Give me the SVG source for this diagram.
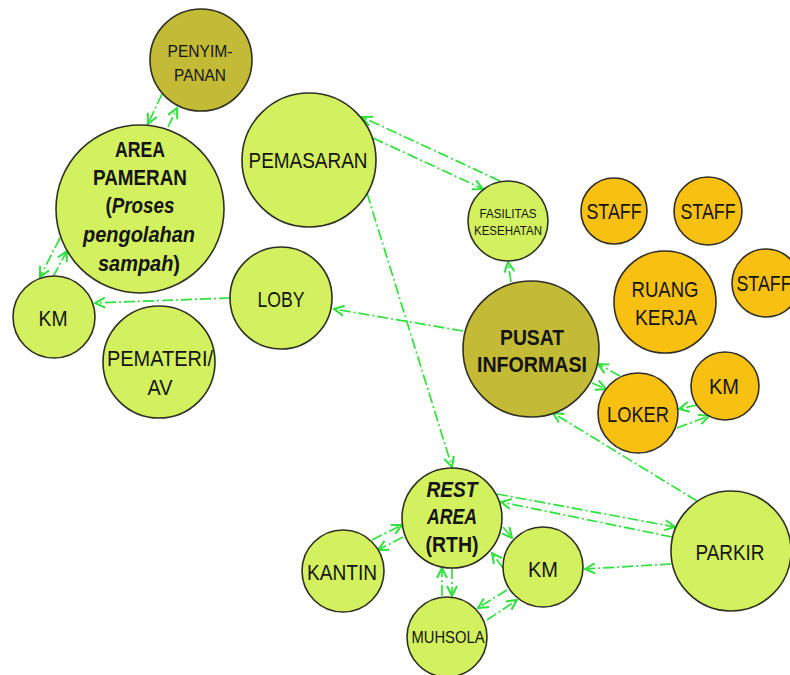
<svg xmlns="http://www.w3.org/2000/svg" width="790" height="675" viewBox="0 0 790 675">
  <style>
    .n { stroke: #2f2f24; stroke-width: 1.6; }
    .g { fill: #d3f05e; }
    .o { fill: #c3bb36; }
    .y { fill: #f8c010; }
    text { font-family: "Liberation Sans", Arial, sans-serif; fill: #141414; text-anchor: middle; }
    .l { font-size: 22px; }
    .m { font-size: 17px; }
    .s { font-size: 12.5px; }
    .b { font-weight: bold; }
    .i { font-style: italic; }
    .c { fill: none; stroke: #2ee23c; stroke-width: 1.7; stroke-dasharray: 11 3 2 3; marker-end: url(#ah); }
  </style>
  <defs>
    <marker id="ah" viewBox="0 0 12 12" refX="11" refY="6" markerWidth="12" markerHeight="12" orient="auto" markerUnits="userSpaceOnUse">
      <path d="M1,1 L11,6 L1,11" fill="none" stroke="#2ee23c" stroke-width="2"/>
    </marker>
  </defs>

  <!-- connectors -->
  <g id="connectors">
    <line class="c" x1="162" y1="94" x2="148" y2="124"/>
    <line class="c" x1="168" y1="127" x2="177" y2="108"/>
    <line class="c" x1="60" y1="238" x2="40" y2="277"/>
    <line class="c" x1="53" y1="277" x2="67" y2="251"/>
    <line class="c" x1="230" y1="298" x2="95" y2="303"/>
    <line class="c" x1="463" y1="331" x2="334" y2="309"/>
    <line class="c" x1="511" y1="282" x2="508" y2="262"/>
    <line class="c" x1="500" y1="181" x2="362" y2="117"/>
    <line class="c" x1="373" y1="138" x2="483" y2="189"/>
    <line class="c" x1="367" y1="193" x2="452" y2="467"/>
    <line class="c" x1="620" y1="376" x2="598" y2="364"/>
    <line class="c" x1="592" y1="383" x2="606" y2="389"/>
    <line class="c" x1="697" y1="405" x2="679" y2="409"/>
    <line class="c" x1="677" y1="428" x2="709" y2="416"/>
    <line class="c" x1="697" y1="501" x2="553" y2="413"/>
    <line class="c" x1="497" y1="494" x2="675" y2="527"/>
    <line class="c" x1="672" y1="537" x2="501" y2="502"/>
    <line class="c" x1="671" y1="564" x2="585" y2="569"/>
    <line class="c" x1="503" y1="527" x2="512" y2="538"/>
    <line class="c" x1="503" y1="568" x2="492" y2="553"/>
    <line class="c" x1="372" y1="540" x2="402" y2="525"/>
    <line class="c" x1="403" y1="537" x2="378" y2="550"/>
    <line class="c" x1="442" y1="596" x2="442" y2="568"/>
    <line class="c" x1="452" y1="568" x2="452" y2="596"/>
    <line class="c" x1="507" y1="590" x2="478" y2="608"/>
    <line class="c" x1="487" y1="620" x2="517" y2="600"/>
  </g>

  <!-- nodes -->
  <g id="penyimpanan">
    <circle class="n o" cx="201" cy="60" r="51"/>
    <text class="m" x="200" y="57" textLength="65" lengthAdjust="spacingAndGlyphs">PENYIM-</text>
    <text class="m" x="200" y="81" textLength="52" lengthAdjust="spacingAndGlyphs">PANAN</text>
  </g>
  <g id="area-pameran">
    <circle class="n g" cx="140" cy="209" r="84"/>
    <text class="l b" x="140" y="157" textLength="50" lengthAdjust="spacingAndGlyphs">AREA</text>
    <text class="l b" x="140" y="185" textLength="94" lengthAdjust="spacingAndGlyphs">PAMERAN</text>
    <text class="l b" x="140" y="213" textLength="69" lengthAdjust="spacingAndGlyphs">(<tspan class="i">Proses</tspan></text>
    <text class="l b i" x="139" y="242" textLength="112" lengthAdjust="spacingAndGlyphs">pengolahan</text>
    <text class="l b" x="139" y="271" textLength="82" lengthAdjust="spacingAndGlyphs"><tspan class="i">sampah</tspan>)</text>
  </g>
  <g id="pemasaran">
    <circle class="n g" cx="309" cy="160" r="67"/>
    <text class="l" x="308" y="168" textLength="119" lengthAdjust="spacingAndGlyphs">PEMASARAN</text>
  </g>
  <g id="fasilitas-kesehatan">
    <circle class="n g" cx="508" cy="221" r="40"/>
    <text class="s" x="508" y="218" textLength="57" lengthAdjust="spacingAndGlyphs">FASILITAS</text>
    <text class="s" x="508" y="235" textLength="68" lengthAdjust="spacingAndGlyphs">KESEHATAN</text>
  </g>
  <g id="km-1">
    <circle class="n g" cx="54" cy="317" r="41"/>
    <text class="l" x="53" y="326" textLength="29" lengthAdjust="spacingAndGlyphs">KM</text>
  </g>
  <g id="loby">
    <circle class="n g" cx="281" cy="298" r="51"/>
    <text class="l" x="281" y="307" textLength="47" lengthAdjust="spacingAndGlyphs">LOBY</text>
  </g>
  <g id="pemateri-av">
    <circle class="n g" cx="159" cy="362" r="56"/>
    <text class="l" x="160" y="366" textLength="106" lengthAdjust="spacingAndGlyphs">PEMATERI/</text>
    <text class="l" x="160" y="395" textLength="25" lengthAdjust="spacingAndGlyphs">AV</text>
  </g>
  <g id="pusat-informasi">
    <circle class="n o" cx="531" cy="349" r="68"/>
    <text class="l b" x="532" y="345" textLength="64" lengthAdjust="spacingAndGlyphs">PUSAT</text>
    <text class="l b" x="532" y="372" textLength="110" lengthAdjust="spacingAndGlyphs">INFORMASI</text>
  </g>
  <g id="staff-1">
    <circle class="n y" cx="614" cy="211" r="33"/>
    <text class="l" x="614" y="219" textLength="55" lengthAdjust="spacingAndGlyphs">STAFF</text>
  </g>
  <g id="staff-2">
    <circle class="n y" cx="708" cy="211" r="34"/>
    <text class="l" x="708" y="219" textLength="55" lengthAdjust="spacingAndGlyphs">STAFF</text>
  </g>
  <g id="staff-3">
    <circle class="n y" cx="766" cy="283" r="34"/>
    <text class="l" x="764" y="291" textLength="55" lengthAdjust="spacingAndGlyphs">STAFF</text>
  </g>
  <g id="ruang-kerja">
    <circle class="n y" cx="665" cy="302" r="51"/>
    <text class="l" x="665" y="297" textLength="67" lengthAdjust="spacingAndGlyphs">RUANG</text>
    <text class="l" x="666" y="325" textLength="62" lengthAdjust="spacingAndGlyphs">KERJA</text>
  </g>
  <g id="km-2">
    <circle class="n y" cx="725" cy="386" r="34"/>
    <text class="l" x="724" y="394" textLength="30" lengthAdjust="spacingAndGlyphs">KM</text>
  </g>
  <g id="loker">
    <circle class="n y" cx="638" cy="413" r="40"/>
    <text class="l" x="638" y="422" textLength="62" lengthAdjust="spacingAndGlyphs">LOKER</text>
  </g>
  <g id="rest-area">
    <circle class="n g" cx="452" cy="518" r="50"/>
    <text class="l b i" x="452" y="497" textLength="51" lengthAdjust="spacingAndGlyphs">REST</text>
    <text class="l b i" x="452" y="524" textLength="50" lengthAdjust="spacingAndGlyphs">AREA</text>
    <text class="l b" x="452" y="552" textLength="53" lengthAdjust="spacingAndGlyphs">(RTH)</text>
  </g>
  <g id="kantin">
    <circle class="n g" cx="343" cy="571" r="41"/>
    <text class="l" x="342" y="580" textLength="70" lengthAdjust="spacingAndGlyphs">KANTIN</text>
  </g>
  <g id="muhsola">
    <circle class="n g" cx="447" cy="637" r="40"/>
    <text class="m" x="448" y="643" textLength="73" lengthAdjust="spacingAndGlyphs">MUHSOLA</text>
  </g>
  <g id="km-3">
    <circle class="n g" cx="543" cy="567" r="40"/>
    <text class="l" x="543" y="577" textLength="30" lengthAdjust="spacingAndGlyphs">KM</text>
  </g>
  <g id="parkir">
    <circle class="n g" cx="731" cy="551" r="60"/>
    <text class="l" x="730" y="560" textLength="69" lengthAdjust="spacingAndGlyphs">PARKIR</text>
  </g>
</svg>
